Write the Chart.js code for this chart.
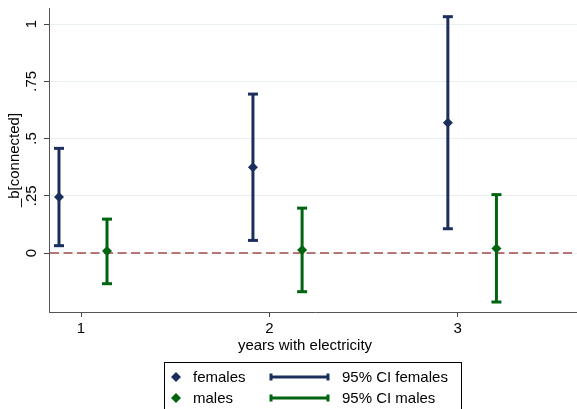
<!DOCTYPE html>
<html>
<head>
<meta charset="utf-8">
<script src="https://cdn.jsdelivr.net/npm/chart.js@4.4.1/dist/chart.umd.min.js"></script>
<style>
  body { margin: 0; background: #fff; overflow: hidden; }
  #wrap { position: relative; width: 577px; height: 409px; overflow: hidden; }
</style>
</head>
<body>
<div id="wrap"><canvas id="coefChart" width="581" height="409"></canvas></div>
<script>
// values
const xTicks = [1, 2, 3];
const xTickLabels = ['1', '2', '3'];
const yTicks = [0, 0.25, 0.5, 0.75, 1];
const yTickLabels = ['0', '.25', '.5', '.75', '1'];

const femalesX = [0.883, 1.913, 2.948];
const femalesB = [0.245, 0.374, 0.569];
const femalesLo = [0.032, 0.055, 0.106];
const femalesHi = [0.457, 0.694, 1.032];

const malesX = [1.138, 2.174, 3.206];
const malesB = [0.009, 0.013, 0.020];
const malesLo = [-0.134, -0.169, -0.214];
const malesHi = [0.148, 0.196, 0.255];

const NAVY = '#1c2f5c';
const GREEN = '#006410';
const FONT = "'Liberation Sans', Arial, Helvetica, sans-serif";

function points(xs, ys) {
  return xs.map((x, i) => ({ x: x, y: ys[i] }));
}

function drawCap(ctx, x, y, half) {
  ctx.beginPath();
  ctx.moveTo(x - half, y);
  ctx.lineTo(x + half, y);
  ctx.stroke();
}

const coefPlugin = {
  id: 'coefPlugin',
  beforeDatasetsDraw(chart) {
    const ctx = chart.ctx;
    const xs = chart.scales.x;
    const ys = chart.scales.y;
    const area = chart.chartArea;

    // reference line at zero
    ctx.save();
    ctx.strokeStyle = '#a04a4c';
    ctx.lineWidth = 1.5;
    ctx.setLineDash([9, 4.5]);
    ctx.beginPath();
    ctx.moveTo(area.left + 1, ys.getPixelForValue(0));
    ctx.lineTo(xs.getPixelForValue(3.61), ys.getPixelForValue(0));
    ctx.stroke();
    ctx.restore();

    // confidence intervals
    const groups = [
      [femalesX, femalesLo, femalesHi, NAVY],
      [malesX, malesLo, malesHi, GREEN]
    ];
    ctx.save();
    ctx.lineCap = 'butt';
    groups.forEach(([gx, lo, hi, color]) => {
      ctx.strokeStyle = color;
      ctx.lineWidth = 3;
      gx.forEach((v, i) => {
        const px = xs.getPixelForValue(v);
        const top = ys.getPixelForValue(hi[i]);
        const bot = ys.getPixelForValue(lo[i]);
        ctx.beginPath();
        ctx.moveTo(px, top);
        ctx.lineTo(px, bot);
        ctx.stroke();
        drawCap(ctx, px, top, 5);
        drawCap(ctx, px, bot, 5);
      });
    });
    ctx.restore();
  },
  afterDraw(chart) {
    const ctx = chart.ctx;
    const xs = chart.scales.x;
    const ys = chart.scales.y;
    const area = chart.chartArea;
    ctx.save();
    ctx.fillStyle = '#000';
    ctx.font = '15px ' + FONT;
    ctx.textAlign = 'center';
    ctx.textBaseline = 'middle';

    // x tick labels
    xTicks.forEach((v, i) => {
      ctx.fillText(xTickLabels[i], xs.getPixelForValue(v), area.bottom + 17);
    });

    // rotated y tick labels
    yTicks.forEach((v, i) => {
      ctx.save();
      ctx.translate(32, ys.getPixelForValue(v));
      ctx.rotate(-Math.PI / 2);
      ctx.fillText(yTickLabels[i], 0, 0);
      ctx.restore();
    });

    // y title
    ctx.save();
    ctx.translate(15, (area.top + area.bottom) / 2);
    ctx.rotate(-Math.PI / 2);
    ctx.fillText('_b[connected]', 0, 0);
    ctx.restore();

    // x title
    ctx.fillText('years with electricity', 305, 346);

    // legend
    ctx.strokeStyle = '#000';
    ctx.lineWidth = 1;
    ctx.strokeRect(164.5, 362.5, 297, 60);

    const rows = [
      ['females', '95% CI females', NAVY, 377],
      ['males', '95% CI males', GREEN, 398]
    ];
    ctx.textAlign = 'left';
    rows.forEach(([lab, ciLab, color, y]) => {
      ctx.fillStyle = color;
      ctx.beginPath();
      ctx.moveTo(176, y - 5);
      ctx.lineTo(181, y);
      ctx.lineTo(176, y + 5);
      ctx.lineTo(171, y);
      ctx.closePath();
      ctx.fill();

      ctx.strokeStyle = color;
      ctx.lineWidth = 3;
      ctx.beginPath();
      ctx.moveTo(270, y);
      ctx.lineTo(329, y);
      ctx.stroke();
      ctx.beginPath();
      ctx.moveTo(271, y - 3.5);
      ctx.lineTo(271, y + 3.5);
      ctx.moveTo(328, y - 3.5);
      ctx.lineTo(328, y + 3.5);
      ctx.stroke();

      ctx.fillStyle = '#000';
      ctx.fillText(lab, 193, y + 1);
      ctx.fillText(ciLab, 342, y + 1);
    });
    ctx.restore();
  }
};

new Chart(document.getElementById('coefChart'), {
  type: 'scatter',
  data: {
    datasets: [
      {
        label: 'females',
        data: points(femalesX, femalesB),
        pointStyle: 'rectRot',
        pointRadius: 5,
        pointBackgroundColor: NAVY,
        pointBorderColor: NAVY,
        pointBorderWidth: 0
      },
      {
        label: 'males',
        data: points(malesX, malesB),
        pointStyle: 'rectRot',
        pointRadius: 5,
        pointBackgroundColor: GREEN,
        pointBorderColor: GREEN,
        pointBorderWidth: 0
      }
    ]
  },
  options: {
    responsive: false,
    animation: false,
    layout: { autoPadding: false, padding: { top: 8, right: 0, left: 0, bottom: 0 } },
    plugins: {
      legend: { display: false },
      tooltip: { enabled: false }
    },
    scales: {
      x: {
        type: 'linear',
        min: 0.83,
        max: 3.655,
        afterBuildTicks: (scale) => { scale.ticks = xTicks.map(v => ({ value: v })); },
        afterFit: (scale) => { scale.height = 97; },
        ticks: { display: false },
        grid: {
          drawOnChartArea: false,
          drawTicks: true,
          tickLength: 5,
          tickColor: '#444'
        },
        border: { display: true, color: '#555', width: 1 }
      },
      y: {
        type: 'linear',
        min: -0.2576,
        max: 1.0699,
        afterBuildTicks: (scale) => { scale.ticks = yTicks.map(v => ({ value: v })); },
        afterFit: (scale) => { scale.width = 49; },
        ticks: { display: false },
        grid: {
          color: '#e8f0f2',
          lineWidth: 1,
          drawTicks: true,
          tickLength: 5,
          tickColor: '#444'
        },
        border: { display: true, color: '#555', width: 1 }
      }
    }
  },
  plugins: [coefPlugin]
});
</script>
</body>
</html>
